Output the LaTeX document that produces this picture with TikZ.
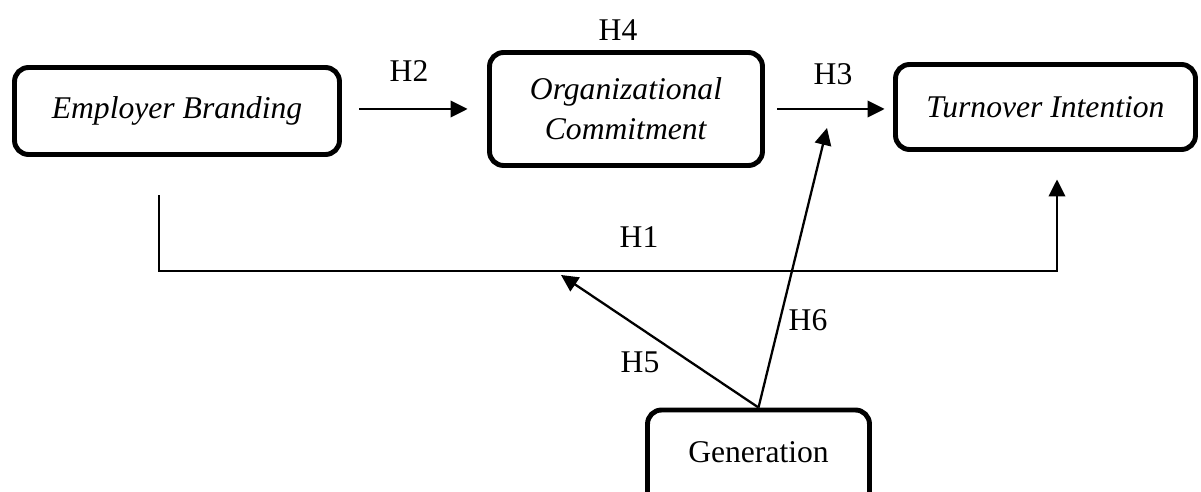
\documentclass[tikz,border=0pt]{standalone}
\usepackage{fontspec}
\setmainfont{Liberation Serif}
\usetikzlibrary{arrows.meta}
\usetikzlibrary{calc}

\tikzset{
  factor/.style={draw,line width=2.8pt,rounded corners=0.28cm,align=center,inner sep=2pt},
  link/.style={line width=1.3pt,-{Triangle[length=0.34cm,width=0.33cm]}},
}

\begin{document}
\begin{tikzpicture}[x=0.02cm,y=-0.02cm,font=\fontsize{18}{22.7}\selectfont]
          \useasboundingbox (0,0) rectangle (1201,492);
          % constructs
          \node[factor,minimum width=6.5cm,minimum height=1.74cm] (Brand) at (177,111) {\textit{Employer Branding}};
          \node[factor,minimum width=5.46cm,minimum height=2.26cm] (Commit) at (626,109) {\textit{Organizational}\\\textit{Commitment}};
          \node[factor,minimum width=6.0cm,minimum height=1.7cm] (Turn) at (1045.5,107) {\textit{Turnover Intention}};
          \node[factor,minimum width=4.44cm,minimum height=2.0cm] (Gen) at (758.5,460) {\raisebox{0.32cm}{Generation}};
          % free ends
          \coordinate (h1start) at ([xshift=-0.36cm,yshift=-0.77cm]Brand.south);
          \coordinate (h1end) at ([xshift=0.23cm,yshift=-0.55cm]Turn.south);
          \coordinate (h1low) at (0,271);
          \coordinate (onH1) at (561,275);
          \coordinate (onH3) at (827,128);
          % paths
          \draw[link,shorten <=0.35cm,shorten >=0.39cm] (Brand.east |- Commit.west) -- (Commit.west);
          \draw[link,shorten <=0.25cm,shorten >=0.17cm] (Commit.east) -- (Turn.west |- Commit.east);
          \draw[link] (h1start) -- (h1start |- h1low) -| (h1end);
          \draw[link] (Gen.north) -- (onH1);
          \draw[link] (Gen.north) -- (onH3);
          % hypotheses
          \node (lH1) at (639,237) {H1};
          \node (lH2) at (409,71) {H2};
          \node (lH3) at (833,74) {H3};
          \node (lH4) at (618,30) {H4};
          \node (lH5) at (640,362) {H5};
          \node (lH6) at (808,320) {H6};
        \end{tikzpicture}
\end{document}
